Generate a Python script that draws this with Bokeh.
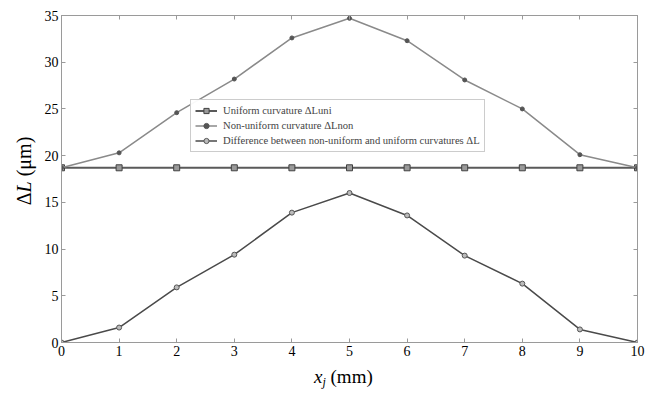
from bokeh.plotting import figure
from bokeh.models import (Range1d, LinearAxis, FixedTicker, Legend, LegendItem, Div)
from bokeh.layouts import row, column
from bokeh.embed import file_html
from bokeh.resources import INLINE

x = [0, 1, 2, 3, 4, 5, 6, 7, 8, 9, 10]
uniform = [18.7, 18.7, 18.7, 18.7, 18.7, 18.7, 18.7, 18.7, 18.7, 18.7, 18.7]
nonuniform = [18.7, 20.3, 24.6, 28.2, 32.6, 34.7, 32.3, 28.1, 25.0, 20.1, 18.7]
difference = [0.0, 1.6, 5.9, 9.4, 13.9, 16.0, 13.6, 9.3, 6.3, 1.4, 0.0]
x_ticks = [0, 1, 2, 3, 4, 5, 6, 7, 8, 9, 10]
y_ticks = [0, 5, 10, 15, 20, 25, 30, 35]

SERIF = "Liberation Serif"
AX = "#9a9a9a"

p = figure(width=616, height=370, output_backend="svg", toolbar_location=None,
           x_range=Range1d(0, 10), y_range=Range1d(0, 35),
           min_border_left=21, min_border_right=19, min_border_top=15, min_border_bottom=28)
p.grid.visible = False
p.outline_line_color = AX
p.background_fill_color = "white"

for ax in [p.xaxis[0], p.yaxis[0]]:
    ax.axis_line_color = AX
    ax.major_tick_line_color = AX
    ax.major_tick_in = 4
    ax.major_tick_out = 0
    ax.minor_tick_line_color = None
    ax.major_label_text_font = SERIF
    ax.major_label_text_font_size = "14px"
    ax.major_label_text_color = "black"
p.xaxis[0].ticker = FixedTicker(ticks=x_ticks)
p.yaxis[0].ticker = FixedTicker(ticks=y_ticks)
p.xaxis[0].major_label_standoff = 3
p.yaxis[0].major_label_standoff = 3

top = LinearAxis(ticker=FixedTicker(ticks=x_ticks),
                 major_label_overrides={t: "" for t in x_ticks},
                 axis_line_color=AX, major_tick_line_color=AX, major_tick_in=4,
                 major_tick_out=0, minor_tick_line_color=None)
right = LinearAxis(ticker=FixedTicker(ticks=y_ticks),
                   major_label_overrides={t: "" for t in y_ticks},
                   axis_line_color=AX, major_tick_line_color=AX, major_tick_in=4,
                   major_tick_out=0, minor_tick_line_color=None)
p.add_layout(top, "above")
p.add_layout(right, "right")

# series
l1 = p.line(x, uniform, line_color="#5a5a5a", line_width=2)
m1 = p.scatter(x, uniform, marker="square", size=6, fill_color="#9a9a9a", line_color="#404040")
l2 = p.line(x, nonuniform, line_color="#8a8a8a", line_width=1.5)
m2 = p.scatter(x, nonuniform, marker="circle", size=4, fill_color="#555555", line_color="#555555")
l3 = p.line(x, difference, line_color="#4a4a4a", line_width=1.5)
m3 = p.scatter(x, difference, marker="circle", size=5, fill_color="#bbbbbb", line_color="#555555")

legend = Legend(items=[
    LegendItem(label="Uniform curvature \u0394Luni", renderers=[l1, m1]),
    LegendItem(label="Non-uniform curvature \u0394Lnon", renderers=[l2, m2]),
    LegendItem(label="Difference between non-uniform and uniform curvatures \u0394L", renderers=[l3, m3]),
], location=(129, 190))
legend.label_text_font = SERIF
legend.label_text_font_size = "10.6px"
legend.label_height = 13
legend.glyph_height = 13
legend.glyph_width = 22
legend.spacing = 2
legend.padding = 4
legend.margin = 0
legend.border_line_color = AX
legend.label_standoff = 6
p.add_layout(legend, "center")

FONT = "font-family:'Liberation Serif','Times New Roman',serif;color:black;white-space:nowrap;"
DIVSTYLE = {"font-family": "'Liberation Serif', serif", "color": "black"}

ydiv = Div(width=40, height=370, margin=0, styles=DIVSTYLE, text=(
    '<div style="position:relative;width:40px;height:370px;">'
    '<span style="position:absolute;left:24px;top:171px;'
    'transform:translate(-50%,-50%) rotate(-90deg);font-size:20px;line-height:20px;' + FONT + '">'
    '&Delta;<i>L</i> (&mu;m)</span></div>'))

xdiv = Div(width=656, height=23, margin=0, styles=DIVSTYLE, text=(
    '<div style="position:relative;width:656px;height:23px;">'
    '<span style="position:absolute;left:314px;top:0px;font-size:19px;line-height:13px;' + FONT + '">'
    '<i>x</i><sub style="font-size:12px;vertical-align:-3px;"><i>j</i></sub> (mm)</span></div>'))

layout = column(row(ydiv, p, spacing=0), xdiv, spacing=0)

open("out.html", "w").write(file_html(layout, INLINE))
